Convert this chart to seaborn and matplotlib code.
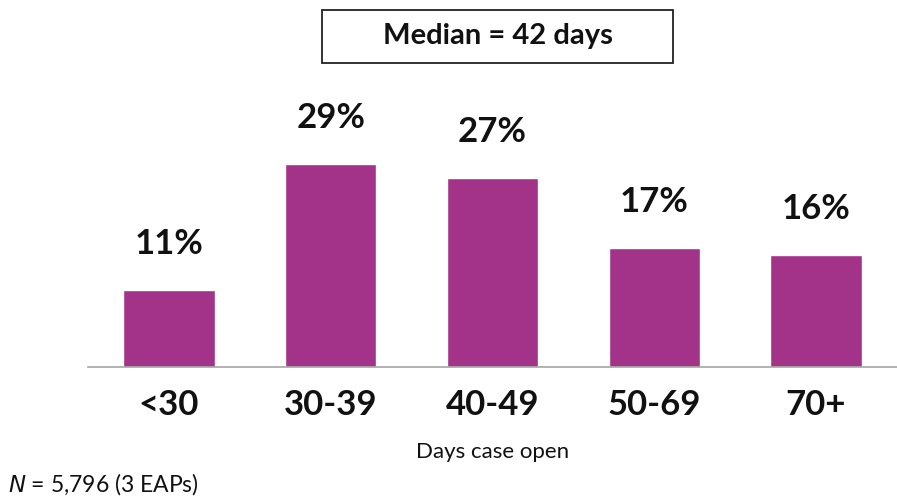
import matplotlib
matplotlib.use("Agg")
import matplotlib.pyplot as plt
from matplotlib.patches import Rectangle
import seaborn as sns
import pandas as pd

categories = ["<30", "30-39", "40-49", "50-69", "70+"]
shares = [11, 29, 27, 17, 16]
median_label = "Median = 42 days"
x_title = "Days case open"
sample_note = "$\\it{N}$ = 5,796 (3 EAPs)"

sns.set_theme(style="white")
plt.rcParams["font.family"] = ["Lato", "DejaVu Sans"]

df = pd.DataFrame({"days": categories, "share": shares})

W, H = 897, 497
fig = plt.figure(figsize=(W / 100, H / 100), dpi=100)
ax = fig.add_axes([88 / W, 130 / H, (W - 88) / W, 297 / H])

sns.barplot(data=df, x="days", y="share", color="#A33388", saturation=1,
            width=0.565, ax=ax)

ax.set_ylim(0, 297 / 7.0)
ax.set_xlim(-0.5, 4.5)
ax.set_yticks([])
ax.set_ylabel("")
ax.set_xlabel("")
for s in ["left", "top", "right"]:
    ax.spines[s].set_visible(False)
ax.spines["bottom"].set_color("#A6A6A6")
ax.spines["bottom"].set_linewidth(1.2)
ax.tick_params(axis="x", length=0, pad=16, labelsize=25)
for lbl in ax.get_xticklabels():
    lbl.set_fontweight("bold")
    lbl.set_color("#111111")

for i, v in enumerate(shares):
    ax.annotate(f"{v}%", (i, v), xytext=(0, 33), textcoords="offset points",
                ha="center", va="center", fontsize=25, fontweight="bold",
                color="#111111")

fig.text(493 / W, 1 - 452 / H, x_title, ha="center", va="center",
         fontsize=16, color="#111111")
fig.text(8 / W, 1 - 484 / H, sample_note, ha="left", va="center",
         fontsize=16.5, color="#111111")

fig.patches.append(Rectangle((322 / W, 1 - 63 / H), 351 / W, 53 / H,
                             transform=fig.transFigure, fill=False,
                             edgecolor="#222222", linewidth=1.3))
fig.text(498 / W, 1 - 36 / H, median_label, ha="center", va="center",
         fontsize=21, fontweight="bold", color="#111111")

fig.savefig("out.png", dpi=100)
